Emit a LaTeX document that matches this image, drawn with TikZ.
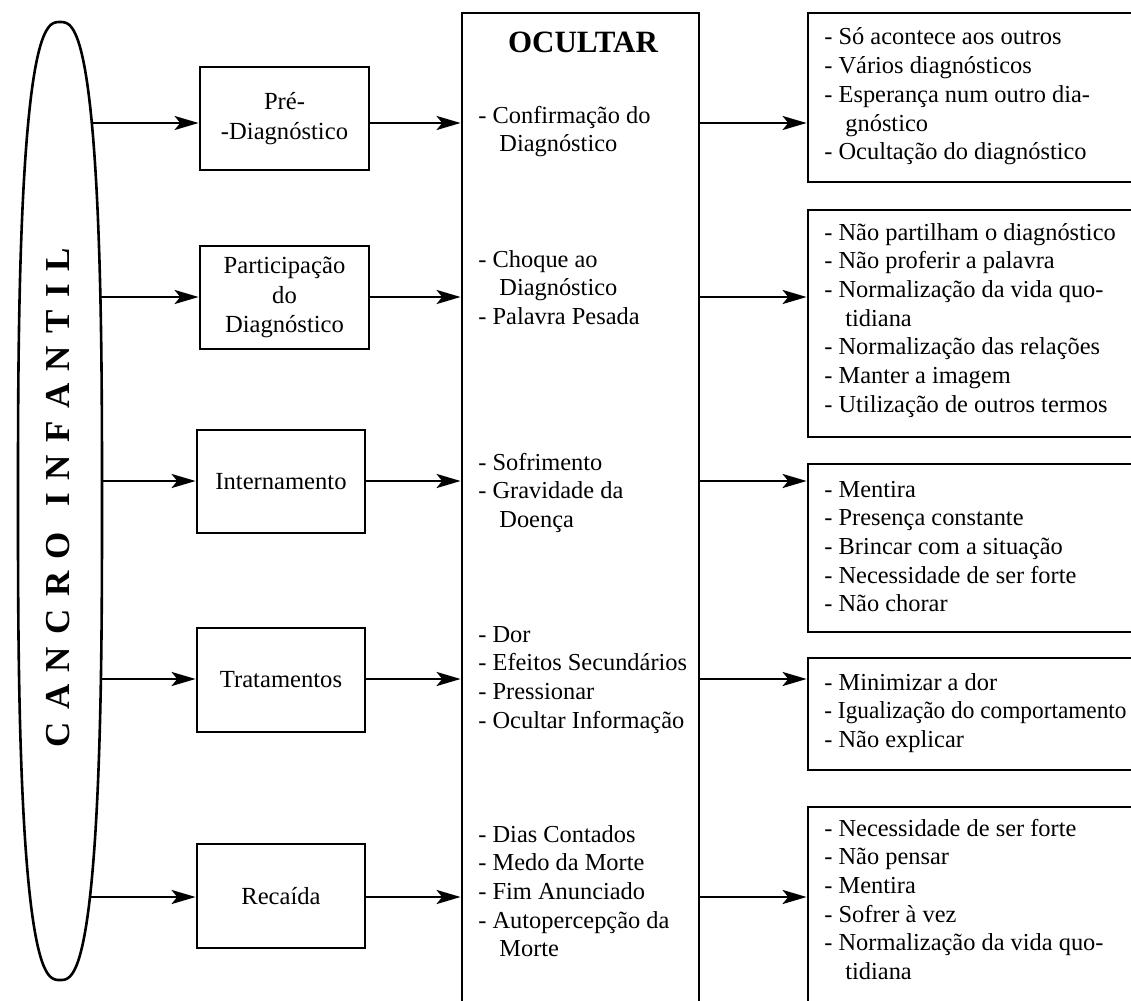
\documentclass[tikz,border=0pt]{standalone}
\usepackage{fontspec}
\setmainfont{Liberation Serif}
\usetikzlibrary{arrows.meta}
\begin{document}
\begin{tikzpicture}[x=0.5pt,y=-0.5pt,
  line width=1.4pt,
  lbox/.style={draw, rectangle, inner sep=0pt, align=center, font=\fontsize{12.3}{14.75}\selectfont},
  rbox/.style={draw, rectangle, inner sep=0pt},
  arr/.style={-{Stealth[length=12pt,width=7pt,inset=2.8pt]}},
  list/.style={inner sep=0pt, anchor=base west, font=\fontsize{12.2}{14.35}\selectfont}
]
\useasboundingbox (0,0) rectangle (1131,1001);
\clip (0,0) rectangle (1131,1001);
\fill[white] (0,0) rectangle (1131,1001);

% elongated ellipse
\draw[line width=1.3pt] plot[domain=0.5:360.5, samples=240, smooth]
  ({60+42*(cos(\x)<0 ? -1 : 1)*pow(abs(cos(\x))+0.00001,0.7407)},
   {501+479*(sin(\x)<0 ? -1 : 1)*pow(abs(sin(\x))+0.00001,0.7407)}) -- cycle;
\node[rotate=90, inner sep=0pt, font=\fontsize{17.5}{20}\selectfont\bfseries] (cancro) at (58.5,498)
  {\spaceskip=6.2pt\relax C A N C R O\hspace{6.6pt} I N F A N T I L};

% rows
\coordinate (r1) at (0,123);
\coordinate (r2) at (0,297);
\coordinate (r3) at (0,481);
\coordinate (r4) at (0,679);
\coordinate (r5) at (0,897);
\coordinate (e1) at (92,123);
\coordinate (e2) at (100.4,297);
\coordinate (e3) at (102,481);
\coordinate (e4) at (101,679);
\coordinate (e5) at (90,897);

% left boxes
\node[lbox, minimum width=84.5pt, minimum height=51.5pt] (b1) at (284.5,118.5) {Pré-\\-Diagnóstico};
\node[lbox, minimum width=84.5pt, minimum height=51.5pt] (b2) at (284.5,297.5) {Participação\\do\\Diagnóstico};
\node[lbox, minimum width=84pt, minimum height=51.5pt] (b3) at (281,481.5) {Internamento};
\node[lbox, minimum width=84pt, minimum height=52pt] (b4) at (281,680) {Tratamentos};
\node[lbox, minimum width=84pt, minimum height=52pt] (b5) at (281,896) {Recaída};

% middle box
\node[rbox, minimum width=118.5pt, minimum height=503.5pt] (mid) at (580.5,516.5) {};
\node[anchor=base, inner sep=0pt, font=\fontsize{15.5}{18}\selectfont\bfseries] (title) at (583,52) {OCULTAR};

\node[list] (m1) at (477,123) {\begin{tabular}[t]{@{}l@{}}- Confirmação do\\\hspace*{10.5pt}Diagnóstico\end{tabular}};
\node[list] (m2) at (477,267) {\begin{tabular}[t]{@{}l@{}}- Choque ao\\\hspace*{10.5pt}Diagnóstico\\- Palavra Pesada\end{tabular}};
\node[list] (m3) at (477,470) {\begin{tabular}[t]{@{}l@{}}- Sofrimento\\- Gravidade da\\\hspace*{10.5pt}Doença\end{tabular}};
\node[list] (m4) at (477,642) {\begin{tabular}[t]{@{}l@{}}- Dor\\- Efeitos Secundários\\- Pressionar\\- Ocultar Informação\end{tabular}};
\node[list] (m5) at (477,842) {\begin{tabular}[t]{@{}l@{}}- Dias Contados\\- Medo da Morte\\- Fim Anunciado\\- Autopercepção da\\\hspace*{10.5pt}Morte\end{tabular}};

% right boxes
\node[rbox, minimum width=171pt, minimum height=84.5pt] (R1) at (979,97.5) {};
\node[rbox, minimum width=171pt, minimum height=113.5pt] (R2) at (979,323.5) {};
\node[rbox, minimum width=171pt, minimum height=84pt] (R3) at (979,548) {};
\node[rbox, minimum width=171pt, minimum height=56pt] (R4) at (979,714) {};
\node[rbox, minimum width=171pt, minimum height=106.5pt] (R5) at (979,913.5) {};

\node[list] (t1) at (823,45) {\begin{tabular}[t]{@{}l@{}}- Só acontece aos outros\\- Vários diagnósticos\\- Esperança num outro dia-\\\hspace*{10.5pt}gnóstico\\- Ocultação do diagnóstico\end{tabular}};
\node[list] (t2) at (823,240) {\begin{tabular}[t]{@{}l@{}}- Não partilham o diagnóstico\\- Não proferir a palavra\\- Normalização da vida quo-\\\hspace*{10.5pt}tidiana\\- Normalização das relações\\- Manter a imagem\\- Utilização de outros termos\end{tabular}};
\node[list] (t3) at (823,497) {\begin{tabular}[t]{@{}l@{}}- Mentira\\- Presença constante\\- Brincar com a situação\\- Necessidade de ser forte\\- Não chorar\end{tabular}};
\node[list] (t4) at (823,690) {\begin{tabular}[t]{@{}l@{}}- Minimizar a dor\\\scalebox{0.955}[1]{- Igualização do comportamento}\\- Não explicar\end{tabular}};
\node[list] (t5) at (823,836) {\begin{tabular}[t]{@{}l@{}}- Necessidade de ser forte\\- Não pensar\\- Mentira\\- Sofrer à vez\\- Normalização da vida quo-\\\hspace*{10.5pt}tidiana\end{tabular}};

% connectors
\foreach \i in {1,...,5}{
  \draw[arr] (e\i) -- (e\i -| b\i.west);
  \draw[arr] (r\i -| b\i.east) -- (r\i -| mid.west);
  \draw[arr] (r\i -| mid.east) -- (r\i -| R\i.west);
}
\end{tikzpicture}
\end{document}
